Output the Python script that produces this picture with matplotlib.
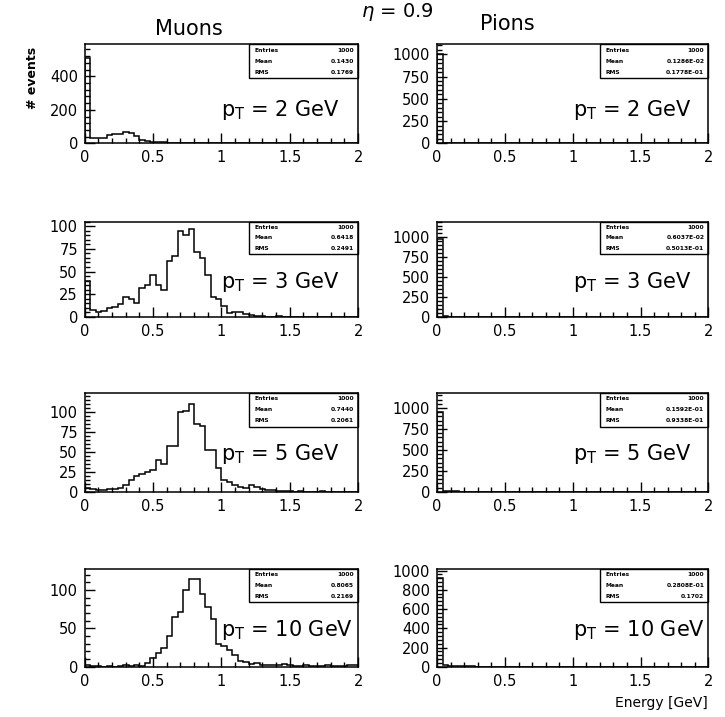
import numpy as np
import matplotlib
matplotlib.use("Agg")
import matplotlib.pyplot as plt
from matplotlib.patches import Rectangle
from matplotlib.ticker import MultipleLocator

plt.rcParams['font.family'] = ['DejaVu Sans']
plt.rcParams['mathtext.fontset'] = 'dejavusans'

# 50 bins of 0.04 GeV from 0 to 2
edges = np.linspace(0, 2, 51)

pt_values = [2, 3, 5, 10]

muon_2 = [510, 30, 32, 35, 48, 55, 58, 65, 62, 45, 20, 15, 10, 8, 6, 5, 4, 3, 3, 2,
          2, 2, 1, 1, 1, 0, 1, 0, 0, 1, 0, 0, 0, 1, 0, 0, 0, 0, 0, 0,
          0, 0, 0, 0, 0, 0, 0, 0, 0, 0]
muon_3 = [40, 8, 5, 6, 10, 11, 14, 22, 20, 15, 32, 35, 46, 35, 30, 62, 67, 95, 90, 97,
          71, 65, 46, 22, 20, 12, 4, 5, 5, 3, 2, 1, 1, 0, 0, 1, 0, 0, 0, 0,
          0, 0, 0, 0, 0, 0, 0, 0, 0, 0]
muon_5 = [5, 3, 2, 2, 4, 4, 5, 9, 15, 20, 22, 25, 27, 40, 35, 57, 57, 100, 101, 110,
          85, 82, 52, 52, 30, 15, 12, 8, 6, 5, 8, 6, 4, 2, 2, 1, 1, 1, 0, 1,
          0, 0, 0, 1, 0, 0, 0, 0, 0, 0]
muon_10 = [2, 1, 1, 0, 1, 0, 1, 2, 1, 2, 1, 5, 12, 18, 25, 40, 65, 72, 100, 115,
           114, 95, 78, 62, 30, 27, 22, 15, 8, 6, 4, 5, 3, 3, 2, 2, 4, 2, 1, 1,
           2, 1, 1, 1, 2, 1, 1, 1, 3, 2]
pion_2 = [998, 1] + [0] * 48
pion_3 = [985, 6, 3, 2, 1, 1, 1] + [0] * 43
pion_5 = [955, 15, 8, 5, 4, 3, 2, 2, 1, 1, 1, 1] + [0] * 38
pion_10 = [920, 22, 10, 8, 6, 5, 4, 3, 3, 2, 2, 2, 1, 1, 1, 1, 1, 1] + [0] * 32

muons = [muon_2, muon_3, muon_5, muon_10]
pions = [pion_2, pion_3, pion_5, pion_10]

muon_stats = [("1000", "0.1430", "0.1769"), ("1000", "0.6418", "0.2491"),
              ("1000", "0.7440", "0.2061"), ("1000", "0.8065", "0.2169")]
pion_stats = [("1000", "0.1286E-02", "0.1778E-01"), ("1000", "0.6037E-02", "0.5013E-01"),
              ("1000", "0.1592E-01", "0.9338E-01"), ("1000", "0.2808E-01", "0.1702")]

muon_ylim = [590, 105, 124, 128]
muon_ymajor = [200, 25, 25, 50]
muon_yminor = [40, 5, 5, 10]
pion_ylim = [1110, 1200, 1180, 1020]
pion_ymajor = [250, 250, 250, 200]
pion_yminor = [50, 50, 50, 40]

fig = plt.figure(figsize=(7.25, 7.17), dpi=100)

rows_bottom = [0.800, 0.558, 0.314, 0.070]
rows_height = [0.138, 0.133, 0.138, 0.137]
rows_text_y = [0.34, 0.37, 0.38, 0.37]
cols_left = [0.117, 0.603]
cols_width = [0.377, 0.374]


def stat_box(ax, stats):
    ax.add_patch(Rectangle((0.6, 0.66), 0.4, 0.34, transform=ax.transAxes,
                           fill=False, lw=1.0, ec='black', clip_on=False))
    names = ["Entries", "Mean", "RMS"]
    for k, (n, v) in enumerate(zip(names, stats)):
        yy = 0.94 - k * 0.11
        ax.text(0.62, yy, n, transform=ax.transAxes, fontsize=4.3,
                fontweight='bold', va='center', ha='left')
        ax.text(0.985, yy, v, transform=ax.transAxes, fontsize=4.3,
                fontweight='bold', va='center', ha='right')


def style(ax, ytop, ymaj, ymin):
    ax.set_xlim(0, 2)
    ax.set_ylim(0, ytop)
    ax.xaxis.set_major_locator(MultipleLocator(0.5))
    ax.xaxis.set_minor_locator(MultipleLocator(0.1))
    ax.yaxis.set_major_locator(MultipleLocator(ymaj))
    ax.yaxis.set_minor_locator(MultipleLocator(ymin))
    ax.set_xticks([0, 0.5, 1, 1.5, 2])
    ax.set_xticklabels(["0", "0.5", "1", "1.5", "2"])
    ax.tick_params(which='both', direction='in', top=False, right=False,
                   labelsize=10.5, width=1.0)
    ax.tick_params(which='major', length=7, pad=5)
    ax.tick_params(which='minor', length=3.5)
    for s in ax.spines.values():
        s.set_linewidth(1.1)


for r in range(4):
    for c, (data, stats, ylim, ymaj, ymin) in enumerate([
            (muons[r], muon_stats[r], muon_ylim[r], muon_ymajor[r], muon_yminor[r]),
            (pions[r], pion_stats[r], pion_ylim[r], pion_ymajor[r], pion_yminor[r])]):
        ax = fig.add_axes([cols_left[c], rows_bottom[r], cols_width[c], rows_height[r]])
        ax.stairs(data, edges, color='black', lw=1.1)
        style(ax, ylim, ymaj, ymin)
        stat_box(ax, stats)
        ax.text(0.5, rows_text_y[r], r'p$_{\mathrm{T}}$ = %d GeV' % pt_values[r],
                transform=ax.transAxes, fontsize=15, ha='left', va='center')

fig.text(0.261, 0.960, "Muons", fontsize=15, ha='center', va='center')
fig.text(0.700, 0.966, "Pions", fontsize=15, ha='center', va='center')
fig.text(0.548, 0.983, r'$\eta$ = 0.9', fontsize=14, ha='center', va='center')
fig.text(0.045, 0.891, "# events", fontsize=9, fontweight='bold', rotation=90,
         ha='center', va='center')
fig.text(0.912, 0.019, "Energy [GeV]", fontsize=10, ha='center', va='center')

fig.savefig("out.png", dpi=100, facecolor='white')
